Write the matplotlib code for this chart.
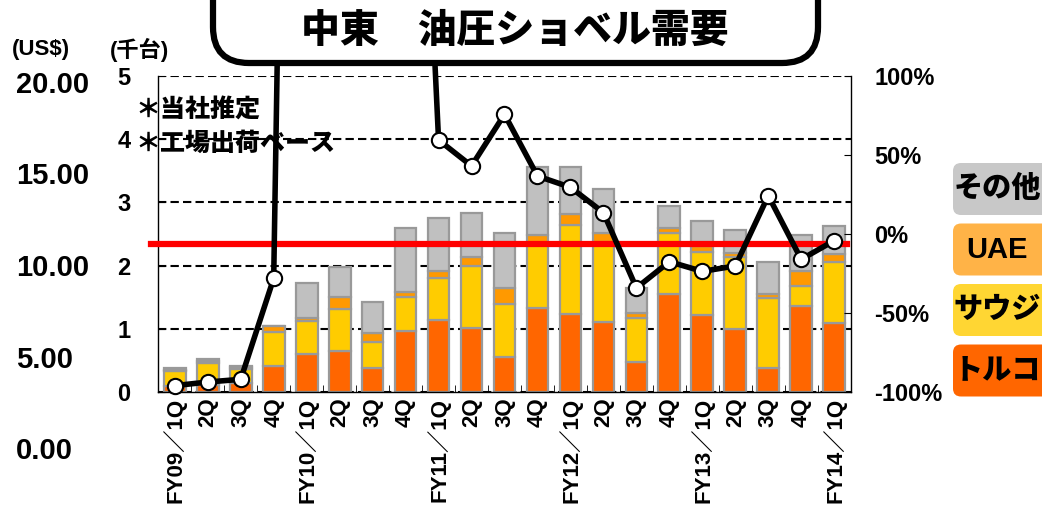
import numpy as np
from matplotlib import pyplot as plt
from matplotlib.patches import FancyBboxPatch
from matplotlib.ticker import FixedLocator

plt.rcParams['font.family'] = ['Liberation Sans', 'Noto Sans CJK JP']
plt.rcParams['font.weight'] = 'bold'

# data (千台)
quarters = ['FY09／1Q', '2Q', '3Q', '4Q',
            'FY10／1Q', '2Q', '3Q', '4Q',
            'FY11／1Q', '2Q', '3Q', '4Q',
            'FY12／1Q', '2Q', '3Q', '4Q',
            'FY13／1Q', '2Q', '3Q', '4Q',
            'FY14／1Q']
turkey = [0.10, 0.12, 0.14, 0.42, 0.60, 0.65, 0.39, 0.97, 1.14, 1.02, 0.55,
          1.33, 1.24, 1.11, 0.48, 1.56, 1.22, 1.00, 0.39, 1.36, 1.10]
saudi = [0.23, 0.34, 0.23, 0.54, 0.53, 0.66, 0.40, 0.54, 0.66, 0.97, 0.84,
         1.01, 1.41, 1.27, 0.70, 0.96, 1.00, 1.14, 1.10, 0.32, 0.95]
uae = [0.02, 0.03, 0.03, 0.08, 0.05, 0.20, 0.14, 0.07, 0.12, 0.15, 0.25,
       0.14, 0.16, 0.13, 0.08, 0.07, 0.09, 0.06, 0.07, 0.24, 0.13]
other = [0.03, 0.03, 0.02, 0.01, 0.54, 0.47, 0.49, 1.01, 0.83, 0.69, 0.87,
         1.08, 0.75, 0.70, 0.39, 0.36, 0.40, 0.36, 0.50, 0.57, 0.45]
# 前年同期比 (%)
growth = [-95.8, -93.5, -91.8, -28.0, 1250, 1000, 700, 500, 59.4, 43.0, 75.6,
          36.6, 29.5, 13.5, -34.1, -17.5, -23.6, -20.2, 24.2, -16.0, -4.2]
ref_level = 2.34

usd_ticks = [0, 5, 10, 15, 20]
pct_ticks = [-100, -50, 0, 50, 100]
legend_labels = ['その他', 'UAE', 'サウジ', 'トルコ']
legend_colors = ['#C8C8C8', '#FFB347', '#FFD633', '#FF6600']

W, H = 1042, 508
def fx(px):
    return px / W
def fy(py):
    return (H - py) / H

fig = plt.figure(figsize=(W / 100, H / 100), dpi=100)

ax = fig.add_axes([fx(158.3), fy(392.3), fx(850.7) - fx(158.3), fy(75.7) - fy(392.3)])
x = np.arange(len(quarters))
edge = '#999999'
bottom = np.zeros(len(x))
for vals, col in [(turkey, '#FF6600'), (saudi, '#FFCC00'), (uae, '#FF9900'), (other, '#C0C0C0')]:
    ax.bar(x, vals, width=0.66, bottom=bottom, color=col,
           edgecolor=edge, linewidth=1.6, zorder=2)
    bottom += np.array(vals)

ax.set_xlim(-0.5, len(x) - 0.5)
ax.set_ylim(0, 5)
ax.set_axisbelow(True)
ax.yaxis.set_major_locator(FixedLocator([0, 1, 2, 3, 4, 5]))
ax.grid(axis='y', color='black', linestyle=(0, (4, 2)), linewidth=1.5)
ax.spines['top'].set_visible(False)
for s in ['left', 'right', 'bottom']:
    ax.spines[s].set_linewidth(1.0)
ax.tick_params(axis='y', direction='in', length=5, labelsize=17, pad=20)
ax.set_xticks(x)
ax.set_xticklabels(quarters, rotation=90, fontsize=16)
ax.tick_params(axis='x', length=0, pad=4)
ax.set_xticks(x[:-1] + 0.5, minor=True)
ax.tick_params(axis='x', which='minor', direction='in', length=5)

ax.axhline(ref_level, xmin=-0.01, xmax=0.994, color='#FF0000', linewidth=4.5,
           zorder=3, clip_on=False)

ax.text(-1.2, 4.45, '＊当社推定', fontsize=18, fontweight='black',
        va='center', ha='left', zorder=4)
ax.text(-1.2, 3.92, '＊工場出荷ベース', fontsize=18, fontweight='black',
        va='center', ha='left', zorder=4)

ax2 = ax.twinx()
ax2.set_ylim(-100, 100)
ax2.set_yticks(pct_ticks)
ax2.set_yticklabels([f'{t}%' for t in pct_ticks])
ax2.tick_params(axis='y', direction='in', length=5, labelsize=17, pad=17)
ax2.plot(x, growth, color='black', linewidth=4, marker='o', markersize=11,
         markerfacecolor='white', markeredgecolor='black', markeredgewidth=1.5,
         clip_on=False, zorder=5)
for s in ax2.spines.values():
    s.set_visible(False)

# US$ axis (left)
ax3 = fig.add_axes([fx(16), fy(448), 0.0001, fy(82) - fy(448)])
ax3.set_ylim(0, 20)
ax3.yaxis.tick_right()
ax3.set_yticks(usd_ticks)
ax3.set_yticklabels([f'{t:.2f}' for t in usd_ticks])
ax3.tick_params(axis='y', length=0, pad=0, labelsize=21)
ax3.set_xticks([])
for s in ax3.spines.values():
    s.set_visible(False)
ax3.patch.set_visible(False)

# overlay in pixel units for title box and legend
ov = fig.add_axes([0, 0, 1, 1], zorder=10)
ov.set_xlim(0, W)
ov.set_ylim(H, 0)
ov.axis('off')
ov.patch.set_visible(False)

ov.text(12, 50, '(US$)', fontsize=16, va='center', ha='left')
ov.text(110, 50, '(千台)', fontsize=16, va='center', ha='left')

ov.add_patch(FancyBboxPatch((213, -60), 605, 123,
                            boxstyle='round,pad=0,rounding_size=36',
                            facecolor='white', edgecolor='black', linewidth=4.5))
ov.text(515, 31, '中東　油圧ショベル需要', fontsize=28, fontweight='black',
        ha='center', va='center')

for i, (label, col) in enumerate(zip(legend_labels, legend_colors)):
    yc = 189 + i * 60.5
    ov.add_patch(FancyBboxPatch((953, yc - 26), 110, 52,
                                boxstyle='round,pad=0,rounding_size=8',
                                facecolor=col, edgecolor='none'))
    ov.text(997, yc, label, fontsize=21, fontweight='black', ha='center', va='center')

fig.savefig('out.png', dpi=100)
